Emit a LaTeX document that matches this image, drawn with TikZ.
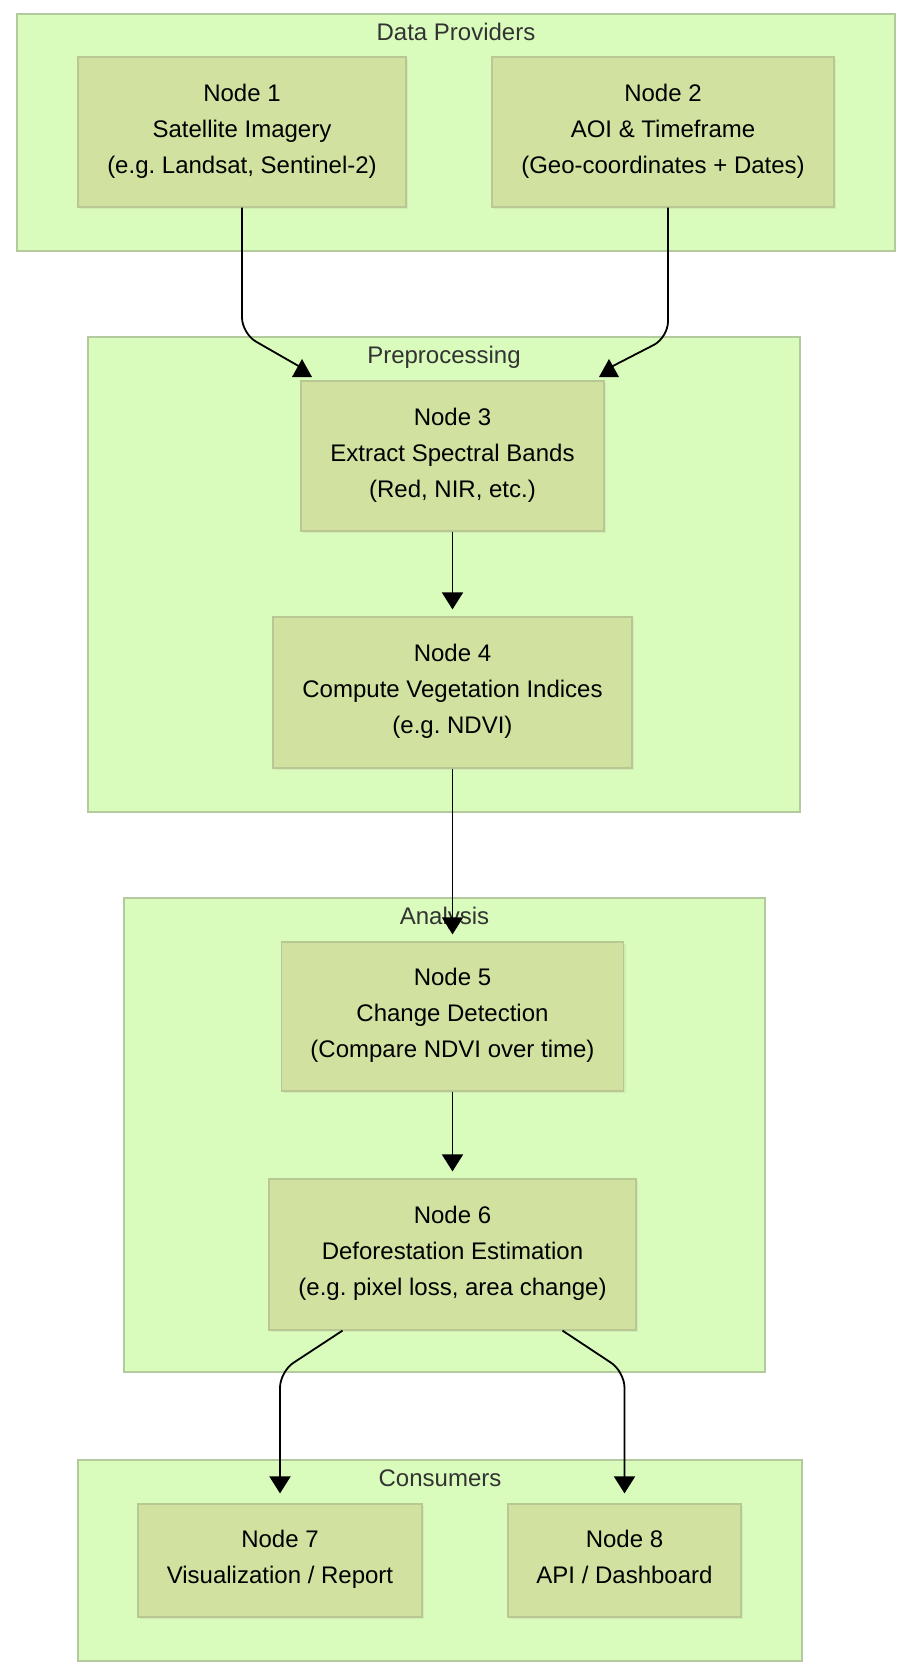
\documentclass[tikz,border=0pt]{standalone}
\usepackage{fontspec}
\setmainfont{Liberation Sans}
\usetikzlibrary{arrows.meta,shadows}
\frenchspacing

\definecolor{clusterfill}{HTML}{D9FCBC}
\definecolor{clusterline}{HTML}{B3CA9E}
\definecolor{nodefill}{HTML}{D1E2A0}
\definecolor{nodeline}{HTML}{B9C795}
\definecolor{titletext}{HTML}{333333}

\newcommand{\boxstrut}{\rule[-7pt]{0pt}{46pt}}

\tikzset{
    cluster/.style={draw=clusterline, fill=clusterfill, line width=1.2pt, inner sep=0pt},
    clustertitle/.style={anchor=base, text=titletext, font=\fontsize{24}{36}\selectfont},
    procbox/.style={draw=nodeline, fill=nodefill, line width=1.2pt, inner sep=0pt, align=center,
        font=\fontsize{24}{36}\selectfont,
        execute at begin node=\boxstrut, execute at end node=\boxstrut,
        drop shadow={opacity=0.12, shadow xshift=2pt, shadow yshift=-2pt}},
    edge/.style={line width=1.8pt, rounded corners=16pt},
    tip/.style={-{Triangle[width=21pt,length=17pt]}}
}

\begin{document}
\begin{tikzpicture}[x=1pt, y=-1pt]
    \fill[white] (0,0) rectangle (912,1674);

    % Clusters
    \node[cluster, minimum width=878pt, minimum height=237pt] (dataprov) at (456,132.5) {};
    \node[cluster, minimum width=712pt, minimum height=475pt] (preproc) at (444,574.5) {};
    \node[cluster, minimum width=641pt, minimum height=474pt] (analysis) at (444.5,1135) {};
    \node[cluster, minimum width=724pt, minimum height=201pt] (consumers) at (440,1560.5) {};

    \node[clustertitle] (tdataprov) at (456,40) {Data Providers};
    \node[clustertitle] (tpreproc) at (444,363) {Preprocessing};
    \node[clustertitle] (tanalysis) at (444.5,924) {Analysis};
    \node[clustertitle] (tconsumers) at (440,1486) {Consumers};

    % Nodes
    \node[procbox, minimum width=328pt, minimum height=150pt] (n1) at (242,132)
        {Node 1\\Satellite Imagery\\(e.g. Landsat, Sentinel-2)};
    \node[procbox, minimum width=342pt, minimum height=150pt] (n2) at (663,132)
        {Node 2\\AOI \& Timeframe\\(Geo-coordinates + Dates)};
    \node[procbox, minimum width=303pt, minimum height=150pt] (n3) at (452.5,456)
        {Node 3\\Extract Spectral Bands\\(Red, NIR, etc.)};
    \node[procbox, minimum width=359pt, minimum height=151pt] (n4) at (452.5,692.5)
        {Node 4\\Compute Vegetation Indices\\(e.g. NDVI)};
    \node[procbox, minimum width=342pt, minimum height=149pt] (n5) at (452.5,1016.5)
        {Node 5\\Change Detection\\(Compare NDVI over time)};
    \node[procbox, minimum width=367pt, minimum height=151pt] (n6) at (452.5,1254.5)
        {Node 6\\Deforestation Estimation\\(e.g. pixel loss, area change)};
    \node[procbox, minimum width=284pt, minimum height=113pt] (n7) at (280,1560.5)
        {Node 7\\Visualization / Report};
    \node[procbox, minimum width=233pt, minimum height=113pt] (n8) at (624.5,1560.5)
        {Node 8\\API / Dashboard};

    % Connectors
    \coordinate (tip1) at (302,368);
    \coordinate (tip2) at (609,368);
    \draw[edge] (n1.south) -- ++(0,126) -- (tip1);
    \draw[edge] ([xshift=5pt]n2.south) -- ++(0,130) -- (tip2);
    \foreach \t in {tip1,tip2}
        \fill ([yshift=9pt]\t) -- ++(10,18) -- ++(-20,0) -- cycle;

    \foreach \a/\b in {n3/n4, n4/n5, n5/n6}
        \draw[edge, tip, shorten >=7pt] (\a) -- (\b);

    \draw[edge, tip, shorten >=10pt] ([xshift=-110pt]n6.south) -- ++(-62.5,41) -- (n7.north);
    \draw[edge, tip, shorten >=10pt] ([xshift=110pt]n6.south) -- ++(62,41) -- (n8.north);
\end{tikzpicture}
\end{document}
